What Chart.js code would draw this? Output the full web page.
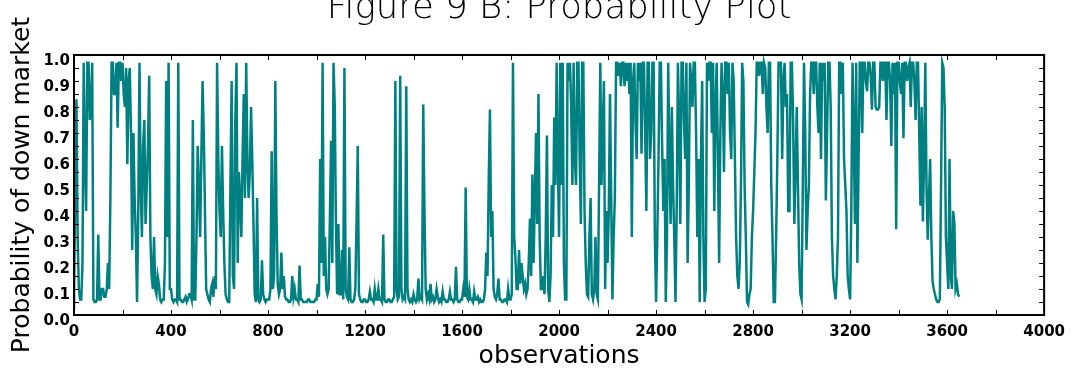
<!DOCTYPE html>
<html>
<head>
<meta charset="utf-8">
<script src="https://cdn.jsdelivr.net/npm/chart.js@4"></script>
<style>
  body { margin: 0; background: #fff; }
  canvas { display: block; }
</style>
</head>
<body>
<canvas id="probChart" width="1073" height="376"></canvas>
<script>
// probability of a down market, one reading every 5 observations (0 .. 3650)
const obsStep = 5;
const prob = [
  // 0 - 195
  0.02, 0.5, 0.83, 0.3, 0.1, 0.06, 0.06, 0.2, 0.97, 0.6, 0.4, 0.97, 0.97, 0.75, 0.8, 0.97, 0.06, 0.05, 0.05, 0.06,
  0.31, 0.06, 0.06, 0.1, 0.1, 0.07, 0.07, 0.1, 0.2, 0.1, 0.45, 0.97, 0.97, 0.85, 0.85, 0.97, 0.72, 0.97, 0.97, 0.9,
  // 200 - 395
  0.97, 0.85, 0.8, 0.95, 0.58, 0.9, 0.95, 0.7, 0.25, 0.7, 0.45, 0.3, 0.05, 0.4, 0.97, 0.5, 0.3, 0.65, 0.75, 0.35,
  0.5, 0.65, 0.92, 0.3, 0.15, 0.1, 0.3, 0.1, 0.08, 0.15, 0.12, 0.06, 0.05, 0.06, 0.06, 0.2, 0.9, 0.3, 0.97, 0.1,
  // 400 - 595
  0.1, 0.06, 0.05, 0.06, 0.06, 0.05, 0.97, 0.06, 0.06, 0.05, 0.05, 0.06, 0.07, 0.05, 0.06, 0.08, 0.08, 0.06, 0.75, 0.06,
  0.06, 0.3, 0.65, 0.5, 0.3, 0.6, 0.9, 0.7, 0.4, 0.1, 0.08, 0.06, 0.05, 0.1, 0.12, 0.07, 0.15, 0.1, 0.97, 0.6,
  // 600 - 795
  0.4, 0.3, 0.65, 0.4, 0.2, 0.08, 0.06, 0.05, 0.05, 0.5, 0.9, 0.15, 0.1, 0.75, 0.97, 0.2, 0.55, 0.45, 0.3, 0.6,
  0.85, 0.45, 0.97, 0.6, 0.45, 0.55, 0.8, 0.6, 0.35, 0.08, 0.05, 0.45, 0.06, 0.05, 0.06, 0.21, 0.08, 0.06, 0.05, 0.06,
  // 800 - 995
  0.06, 0.06, 0.1, 0.63, 0.1, 0.15, 0.9, 0.38, 0.12, 0.08, 0.1, 0.24, 0.1, 0.15, 0.07, 0.06, 0.06, 0.05, 0.05, 0.06,
  0.15, 0.07, 0.1, 0.06, 0.06, 0.05, 0.19, 0.06, 0.06, 0.05, 0.05, 0.05, 0.05, 0.06, 0.06, 0.05, 0.05, 0.05, 0.05, 0.06,
  // 1000 - 1195
  0.06, 0.12, 0.07, 0.6, 0.2, 0.97, 0.15, 0.3, 0.1, 0.08, 0.1, 0.37, 0.67, 0.2, 0.97, 0.81, 0.35, 0.08, 0.35, 0.08,
  0.08, 0.25, 0.06, 0.95, 0.1, 0.07, 0.06, 0.26, 0.06, 0.05, 0.05, 0.06, 0.1, 0.36, 0.65, 0.08, 0.06, 0.05, 0.05, 0.06,
  // 1200 - 1395
  0.06, 0.05, 0.05, 0.06, 0.09, 0.06, 0.06, 0.05, 0.1, 0.06, 0.06, 0.1, 0.06, 0.06, 0.05, 0.31, 0.06, 0.05, 0.05, 0.06,
  0.06, 0.05, 0.05, 0.06, 0.07, 0.9, 0.1, 0.06, 0.07, 0.92, 0.1, 0.06, 0.07, 0.06, 0.88, 0.1, 0.06, 0.05, 0.06, 0.05,
  // 1400 - 1595
  0.08, 0.06, 0.05, 0.06, 0.14, 0.06, 0.07, 0.06, 0.81, 0.4, 0.1, 0.06, 0.08, 0.06, 0.12, 0.06, 0.07, 0.05, 0.06, 0.1,
  0.07, 0.05, 0.06, 0.05, 0.09, 0.06, 0.06, 0.05, 0.05, 0.06, 0.09, 0.06, 0.06, 0.05, 0.06, 0.185, 0.06, 0.05, 0.05, 0.06,
  // 1600 - 1795
  0.06, 0.1, 0.07, 0.49, 0.07, 0.06, 0.1, 0.06, 0.06, 0.05, 0.09, 0.06, 0.06, 0.07, 0.05, 0.06, 0.05, 0.05, 0.06, 0.1,
  0.24, 0.15, 0.52, 0.79, 0.3, 0.4, 0.1, 0.07, 0.06, 0.08, 0.14, 0.06, 0.06, 0.05, 0.05, 0.06, 0.06, 0.05, 0.1, 0.06,
  // 1800 - 1995
  0.06, 0.08, 0.97, 0.3, 0.22, 0.1, 0.1, 0.25, 0.12, 0.2, 0.15, 0.1, 0.12, 0.08, 0.1, 0.2, 0.37, 0.15, 0.54, 0.2,
  0.45, 0.7, 0.35, 0.85, 0.3, 0.1, 0.1, 0.15, 0.08, 0.3, 0.69, 0.1, 0.05, 0.15, 0.5, 0.3, 0.76, 0.5, 0.97, 0.6,
  // 2000 - 2195
  0.3, 0.97, 0.5, 0.97, 0.2, 0.06, 0.06, 0.97, 0.9, 0.97, 0.8, 0.5, 0.97, 0.6, 0.5, 0.97, 0.97, 0.6, 0.35, 0.97,
  0.97, 0.4, 0.2, 0.08, 0.07, 0.3, 0.45, 0.08, 0.06, 0.1, 0.3, 0.08, 0.06, 0.5, 0.97, 0.5, 0.7, 0.9, 0.1, 0.4,
  // 2200 - 2395
  0.2, 0.4, 0.85, 0.45, 0.06, 0.3, 0.45, 0.97, 0.97, 0.92, 0.97, 0.88, 0.97, 0.97, 0.88, 0.97, 0.9, 0.97, 0.85, 0.97,
  0.3, 0.9, 0.97, 0.75, 0.6, 0.97, 0.9, 0.97, 0.62, 0.97, 0.97, 0.7, 0.4, 0.97, 0.97, 0.6, 0.7, 0.97, 0.97, 0.3,
  // 2400 - 2595
  0.05, 0.3, 0.6, 0.97, 0.97, 0.65, 0.4, 0.6, 0.05, 0.3, 0.97, 0.6, 0.35, 0.8, 0.5, 0.3, 0.05, 0.4, 0.97, 0.75,
  0.35, 0.97, 0.97, 0.75, 0.6, 0.97, 0.2, 0.5, 0.97, 0.9, 0.8, 0.97, 0.97, 0.7, 0.3, 0.6, 0.05, 0.6, 0.9, 0.3,
  // 2600 - 2795
  0.05, 0.1, 0.97, 0.9, 0.97, 0.97, 0.7, 0.97, 0.4, 0.8, 0.97, 0.6, 0.2, 0.7, 0.97, 0.85, 0.55, 0.97, 0.97, 0.85,
  0.97, 0.7, 0.6, 0.97, 0.9, 0.6, 0.3, 0.15, 0.1, 0.2, 0.5, 0.97, 0.9, 0.5, 0.3, 0.05, 0.04, 0.08, 0.1, 0.3,
  // 2800 - 2995
  0.4, 0.55, 0.7, 0.97, 0.97, 0.92, 0.97, 0.97, 0.85, 0.97, 0.95, 0.8, 0.7, 0.97, 0.97, 0.5, 0.3, 0.05, 0.05, 0.3,
  0.6, 0.97, 0.97, 0.97, 0.6, 0.9, 0.97, 0.8, 0.85, 0.4, 0.4, 0.97, 0.97, 0.75, 0.35, 0.55, 0.8, 0.5, 0.2, 0.08,
  // 3000 - 3195
  0.06, 0.5, 0.97, 0.7, 0.25, 0.4, 0.5, 0.85, 0.97, 0.97, 0.85, 0.97, 0.97, 0.8, 0.7, 0.97, 0.6, 0.97, 0.9, 0.97,
  0.44, 0.7, 0.97, 0.97, 0.8, 0.3, 0.15, 0.1, 0.06, 0.15, 0.3, 0.97, 0.97, 0.85, 0.97, 0.6, 0.5, 0.4, 0.15, 0.1,
  // 3200 - 3395
  0.06, 0.4, 0.97, 0.7, 0.35, 0.97, 0.2, 0.6, 0.97, 0.97, 0.7, 0.97, 0.97, 0.9, 0.86, 0.97, 0.97, 0.92, 0.79, 0.97,
  0.97, 0.8, 0.79, 0.79, 0.8, 0.97, 0.97, 0.9, 0.97, 0.97, 0.75, 0.97, 0.97, 0.9, 0.65, 0.97, 0.85, 0.97, 0.33, 0.97,
  // 3400 - 3595
  0.97, 0.9, 0.85, 0.97, 0.68, 0.97, 0.97, 0.9, 0.95, 0.97, 0.8, 0.97, 0.97, 0.9, 0.75, 0.97, 0.97, 0.7, 0.42, 0.8,
  0.36, 0.6, 0.97, 0.5, 0.29, 0.45, 0.6, 0.3, 0.13, 0.1, 0.08, 0.06, 0.05, 0.05, 0.06, 0.5, 0.97, 0.95, 0.8, 0.3,
  // 3600 - 3650
  0.2, 0.1, 0.6, 0.15, 0.1, 0.4, 0.35, 0.1, 0.12, 0.08, 0.07
];

const titleText = 'Figure 9 B: Probability Plot';
const xTitle = 'observations';
const yTitle = 'Probability of down market';
const xMax = 4000, xStep = 400, xMinorStep = 200;
const yMax = 1.0, yStep = 0.1, yMinorStep = 0.05;

const points = prob.map((p, i) => ({ x: i * obsStep, y: p }));

// inward ticks on all four sides, the box and the title
const frameTicks = {
  id: 'frameTicks',
  afterDatasetsDraw(chart) {
    const { ctx, chartArea: a, scales: { x, y } } = chart;
    ctx.save();
    ctx.strokeStyle = '#000';
    ctx.lineWidth = 1;
    ctx.beginPath();
    for (let v = 0; v <= xMax; v += xMinorStep) {
      const px = Math.round(x.getPixelForValue(v)) + 0.5;
      ctx.moveTo(px, a.bottom); ctx.lineTo(px, a.bottom - 5);
      ctx.moveTo(px, a.top); ctx.lineTo(px, a.top + 5);
    }
    for (let i = 0; i <= Math.round(yMax / yMinorStep); i++) {
      const py = Math.round(y.getPixelForValue(i * yMinorStep)) + 0.5;
      ctx.moveTo(a.left, py); ctx.lineTo(a.left + 5, py);
      ctx.moveTo(a.right, py); ctx.lineTo(a.right - 5, py);
    }
    ctx.stroke();
    ctx.lineWidth = 2;
    ctx.strokeRect(a.left, a.top, a.right - a.left, a.bottom - a.top);

    ctx.fillStyle = '#000';
    ctx.font = '200 35.5px "DejaVu Sans"';
    ctx.textAlign = 'center';
    ctx.textBaseline = 'alphabetic';
    ctx.fillText(titleText, (a.left + a.right) / 2, 18);
    ctx.restore();
  }
};

let config = {
  type: 'line',
  data: {
    datasets: [{
      data: points,
      borderColor: '#008080',
      backgroundColor: '#008080',
      borderWidth: 2.5,
      pointRadius: 0,
      tension: 0
    }]
  },
  options: {
    responsive: false,
    animation: false,
    devicePixelRatio: 1,
    layout: { padding: { left: 0, right: 28, top: 55, bottom: 0 } },
    plugins: { legend: { display: false }, tooltip: { enabled: false } },
    scales: {
      x: {
        type: 'linear',
        min: 0,
        max: xMax,
        afterFit: (s) => { s.height = 61; },
        grid: { display: false, drawTicks: false },
        border: { display: false },
        ticks: {
          stepSize: xStep,
          padding: 8,
          color: '#000',
          font: { family: 'DejaVu Sans', size: 15, weight: 'bold' },
          maxRotation: 0,
          callback: (v) => String(v)
        },
        title: {
          display: true,
          text: xTitle,
          color: '#000',
          font: { family: 'DejaVu Sans', size: 25 },
          padding: { top: 0, bottom: 5 }
        }
      },
      y: {
        min: 0,
        max: yMax,
        afterFit: (s) => { s.width = 74; },
        grid: { display: false, drawTicks: false },
        border: { display: false },
        ticks: {
          stepSize: yStep,
          padding: 4,
          labelOffset: 6,
          color: '#000',
          font: { family: 'DejaVu Sans', size: 15, weight: 'bold' },
          callback: (v) => v.toFixed(1)
        },
        title: {
          display: true,
          text: yTitle,
          color: '#000',
          font: { family: 'DejaVu Sans', size: 25 },
          padding: { top: 7, bottom: 0 }
        }
      }
    }
  },
  plugins: [frameTicks]
};

let probChart = new Chart(document.getElementById('probChart'), config);
</script>
</body>
</html>
